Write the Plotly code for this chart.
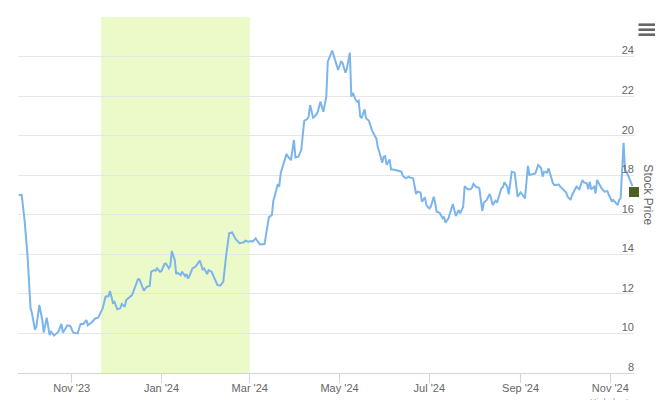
import plotly.graph_objects as go

# ---- data ----
dates = [
    "2023-09-26", "2023-09-28", "2023-09-30", "2023-10-02", "2023-10-04", "2023-10-05",
    "2023-10-07", "2023-10-08", "2023-10-10", "2023-10-12", "2023-10-13", "2023-10-15",
    "2023-10-17", "2023-10-18", "2023-10-20", "2023-10-23", "2023-10-25", "2023-10-26",
    "2023-10-29", "2023-10-31", "2023-11-02", "2023-11-05", "2023-11-07", "2023-11-09",
    "2023-11-11", "2023-11-12", "2023-11-15", "2023-11-17", "2023-11-19", "2023-11-21",
    "2023-11-22", "2023-11-24", "2023-11-26", "2023-11-27", "2023-11-29", "2023-11-30",
    "2023-12-02", "2023-12-04", "2023-12-05", "2023-12-07", "2023-12-08", "2023-12-12",
    "2023-12-14", "2023-12-16", "2023-12-17", "2023-12-20", "2023-12-22", "2023-12-24",
    "2023-12-25", "2023-12-27", "2023-12-28", "2023-12-29", "2023-12-31", "2024-01-01",
    "2024-01-03", "2024-01-04", "2024-01-06", "2024-01-07", "2024-01-08", "2024-01-10",
    "2024-01-11", "2024-01-12", "2024-01-14", "2024-01-15", "2024-01-17", "2024-01-18",
    "2024-01-19", "2024-01-20", "2024-01-22", "2024-01-24", "2024-01-25", "2024-01-27",
    "2024-01-29", "2024-01-30", "2024-02-01", "2024-02-02", "2024-02-04", "2024-02-05",
    "2024-02-06", "2024-02-08", "2024-02-10", "2024-02-12", "2024-02-14", "2024-02-16",
    "2024-02-18", "2024-02-20", "2024-02-22", "2024-02-23", "2024-02-26", "2024-02-27",
    "2024-02-29", "2024-03-02", "2024-03-03", "2024-03-05", "2024-03-06", "2024-03-08",
    "2024-03-11", "2024-03-13", "2024-03-14", "2024-03-16", "2024-03-17", "2024-03-18",
    "2024-03-20", "2024-03-21", "2024-03-22", "2024-03-24", "2024-03-26", "2024-03-27",
    "2024-03-29", "2024-03-31", "2024-04-01", "2024-04-03", "2024-04-05", "2024-04-07",
    "2024-04-09", "2024-04-10", "2024-04-11", "2024-04-13", "2024-04-14", "2024-04-16",
    "2024-04-18", "2024-04-20", "2024-04-22", "2024-04-23", "2024-04-25", "2024-04-26",
    "2024-04-28", "2024-04-30", "2024-05-02", "2024-05-03", "2024-05-05", "2024-05-06",
    "2024-05-08", "2024-05-09", "2024-05-10", "2024-05-12", "2024-05-13", "2024-05-14",
    "2024-05-15", "2024-05-16", "2024-05-18", "2024-05-19", "2024-05-21", "2024-05-23",
    "2024-05-25", "2024-05-26", "2024-05-27", "2024-05-28", "2024-05-30", "2024-05-31",
    "2024-06-01", "2024-06-02", "2024-06-04", "2024-06-05", "2024-06-08", "2024-06-10",
    "2024-06-12", "2024-06-13", "2024-06-15", "2024-06-17", "2024-06-18", "2024-06-20",
    "2024-06-22", "2024-06-23", "2024-06-25", "2024-06-26", "2024-06-28", "2024-06-29",
    "2024-07-01", "2024-07-02", "2024-07-04", "2024-07-05", "2024-07-06", "2024-07-08",
    "2024-07-10", "2024-07-11", "2024-07-12", "2024-07-14", "2024-07-16", "2024-07-17",
    "2024-07-19", "2024-07-21", "2024-07-22", "2024-07-24", "2024-07-25", "2024-07-27",
    "2024-07-29", "2024-07-30", "2024-07-31", "2024-08-02", "2024-08-03", "2024-08-04",
    "2024-08-06", "2024-08-07", "2024-08-09", "2024-08-11", "2024-08-12", "2024-08-13",
    "2024-08-15", "2024-08-16", "2024-08-19", "2024-08-20", "2024-08-21", "2024-08-23",
    "2024-08-24", "2024-08-25", "2024-08-26", "2024-08-28", "2024-08-29", "2024-08-30",
    "2024-09-01", "2024-09-02", "2024-09-04", "2024-09-06", "2024-09-07", "2024-09-09",
    "2024-09-11", "2024-09-13", "2024-09-15", "2024-09-16", "2024-09-17", "2024-09-19",
    "2024-09-20", "2024-09-23", "2024-09-24", "2024-09-27", "2024-09-28", "2024-10-02",
    "2024-10-03", "2024-10-05", "2024-10-06", "2024-10-09", "2024-10-11", "2024-10-13",
    "2024-10-14", "2024-10-16", "2024-10-17", "2024-10-18", "2024-10-19", "2024-10-21",
    "2024-10-22", "2024-10-23", "2024-10-25", "2024-10-26", "2024-10-28", "2024-10-30",
    "2024-10-31", "2024-11-02", "2024-11-03", "2024-11-05", "2024-11-06", "2024-11-07",
    "2024-11-08", "2024-11-10", "2024-11-11", "2024-11-12", "2024-11-14", "2024-11-16",
]

prices = [
    17.00, 17.00, 15.70, 13.90, 11.30, 11.02,
    10.20, 10.34, 11.44, 10.68, 10.04, 10.80,
    9.92, 10.09, 9.89, 10.09, 10.48, 10.04,
    10.41, 10.38, 10.04, 10.00, 10.48, 10.48,
    10.68, 10.41, 10.59, 10.76, 10.80, 11.18,
    11.27, 11.86, 11.89, 12.15, 11.55, 11.60,
    11.22, 11.27, 11.49, 11.35, 11.69, 11.94,
    12.36, 12.74, 12.74, 12.16, 12.36, 12.40,
    13.12, 13.20, 13.17, 13.29, 13.12, 13.16,
    13.51, 13.54, 13.29, 13.41, 14.17, 13.71,
    13.00, 13.07, 12.95, 13.12, 12.90, 13.00,
    12.78, 12.90, 13.29, 13.37, 13.46, 13.68,
    13.24, 13.29, 13.00, 13.20, 13.12, 12.95,
    12.87, 12.45, 12.42, 12.62, 13.97, 15.06,
    15.11, 14.81, 14.64, 14.56, 14.61, 14.69,
    14.64, 14.67, 14.64, 14.81, 14.69, 14.50,
    14.52, 15.31, 15.87, 15.99, 16.70, 16.96,
    17.55, 17.42, 18.10, 18.60, 19.07, 18.94,
    18.77, 19.78, 18.90, 18.94, 19.27, 20.75,
    20.84, 20.96, 21.55, 20.91, 20.96, 21.16,
    21.72, 21.21, 21.97, 23.74, 24.08, 24.30,
    23.82, 23.32, 23.74, 23.69, 23.18, 23.40,
    24.20, 21.97, 22.17, 21.80, 21.72, 21.77,
    20.99, 20.88, 21.33, 20.88, 20.75, 20.28,
    19.98, 19.86, 19.41, 19.19, 18.63, 18.94,
    18.97, 18.52, 18.80, 18.30, 18.26, 18.23,
    18.18, 17.96, 17.84, 17.93, 17.88, 17.84,
    17.05, 17.17, 17.12, 16.66, 16.88, 16.49,
    16.32, 16.41, 16.91, 16.58, 16.15, 16.10,
    15.82, 15.90, 15.60, 15.82, 16.38, 16.54,
    15.94, 16.24, 16.07, 16.41, 17.45, 17.29,
    17.29, 17.37, 17.56, 17.39, 17.39, 17.34,
    16.19, 16.61, 16.75, 17.05, 16.83, 16.49,
    16.71, 16.61, 17.34, 17.39, 17.64, 17.42,
    17.03, 17.59, 18.18, 18.13, 17.50, 16.91,
    17.13, 17.05, 16.83, 18.47, 18.01, 18.04,
    18.09, 18.52, 18.35, 17.93, 18.18, 18.13,
    18.35, 17.59, 17.50, 17.53, 17.42, 17.12,
    16.91, 16.75, 17.00, 17.42, 17.29, 17.76,
    17.64, 17.59, 17.29, 17.67, 17.29, 17.42,
    17.08, 17.76, 17.45, 17.34, 17.17, 17.20,
    17.00, 16.70, 16.75, 16.54, 16.49, 16.75,
    16.83, 19.64, 18.26, 18.18, 17.76, 17.45,
]

band_start = "2023-11-21"
band_end = "2024-03-01"
y_tick_values = [8, 10, 12, 14, 16, 18, 20, 22, 24, 26]
y_tick_labels = ["8", "10", "12", "14", "16", "18", "20", "22", "24", ""]
x_tick_start = "2023-11-01"
x_range = ["2023-09-25 12:00", "2024-11-17 02:00"]
marker_value = 17.15
axis_title = "Stock Price"
credit_text = "Highcharts.com"

FONT = "Liberation Sans, Arial, Helvetica, sans-serif"

fig = go.Figure()

fig.add_trace(go.Scatter(
    x=dates, y=prices, mode="lines",
    line=dict(color="#7cb5ec", width=2),
    hoverinfo="x+y", showlegend=False,
))

fig.add_trace(go.Scatter(
    x=[x_range[1]], y=[marker_value], mode="markers",
    marker=dict(symbol="square", size=10, color="#4e5f24"),
    cliponaxis=False, showlegend=False, hoverinfo="skip",
))

fig.add_shape(type="rect", xref="x", yref="paper",
              x0=band_start, x1=band_end, y0=0, y1=1,
              fillcolor="#ecf9c9", line=dict(width=0), layer="below")

# export menu icon (three bars)
for yy in (0.9784, 0.9643, 0.9503):
    fig.add_shape(type="line", xref="paper", yref="paper",
                  x0=1.0073, x1=1.0341, y0=yy, y1=yy,
                  line=dict(color="#666666", width=2.6))

fig.add_annotation(text=axis_title, xref="paper", yref="paper",
                   x=1.0227, y=0.499, xanchor="center", yanchor="middle",
                   textangle=90, showarrow=False,
                   font=dict(family=FONT, size=12, color="#666666"))

fig.add_annotation(text=credit_text, xref="paper", yref="paper",
                   x=1.0341, y=-0.062, xanchor="right", yanchor="top",
                   showarrow=False,
                   font=dict(family=FONT, size=9, color="#999999"))

fig.update_layout(
    width=660, height=400,
    margin=dict(l=18, r=26, t=17, b=27, autoexpand=False),
    paper_bgcolor="white", plot_bgcolor="white",
    font=dict(family=FONT, size=11, color="#666666"),
    xaxis=dict(
        type="date", range=x_range,
        tickmode="linear", tick0=x_tick_start, dtick="M2",
        tickformat="%b '%y",
        showgrid=False, zeroline=False,
        showline=True, linecolor="#ccd6eb", linewidth=1,
        ticks="outside", ticklen=9, tickcolor="#ccd6eb", tickwidth=1,
        ticklabelstandoff=-4,
        tickfont=dict(family=FONT, size=11, color="#666666"),
        fixedrange=True,
    ),
    yaxis=dict(
        range=[8, 26], side="right",
        tickmode="array", tickvals=y_tick_values, ticktext=y_tick_labels,
        ticklabelposition="inside", ticks="", ticklabelshift=-6,
        ticklabelstandoff=-3, ticklabeloverflow="allow",
        showgrid=True, gridcolor="#e6e6e6", gridwidth=1,
        zeroline=False, showline=False,
        tickfont=dict(family=FONT, size=11, color="#666666"),
        fixedrange=True,
    ),
)

fig.write_html(
    "out.html",
    config={"displayModeBar": False},
    post_script="document.body.style.margin='0';document.body.style.padding='0';",
)
